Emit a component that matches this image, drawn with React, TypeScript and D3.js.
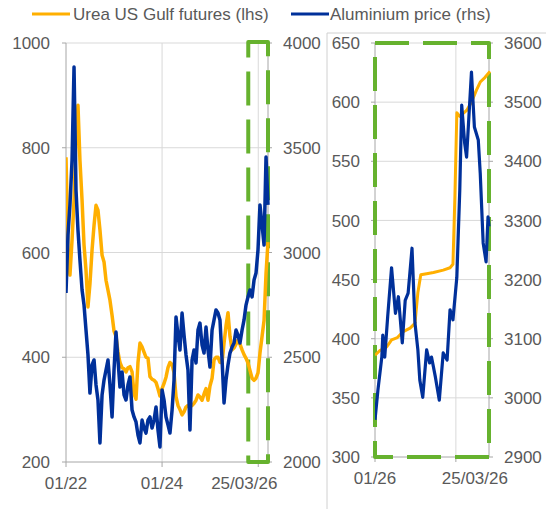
import React from "react";
import * as d3 from "d3";

// ---------- DATA ----------
// Left panel: fortnightly samples Jan 2022 – Mar 2026
const leftStart = "2022-01-01";
const leftStepDays = 15.2;
const ureaLeft = [782,605,557,624,700,814,881,776,700,614,566,496,540,605,652,690,681,643,595,582,547,528,509,480,450,440,410,390,380,378,372,380,382,372,330,320,390,427,420,410,400,398,363,358,356,352,340,326,340,350,362,380,390,386,370,325,308,300,290,296,305,308,305,308,312,318,328,324,318,330,340,318,345,360,395,400,400,390,390,427,460,485,440,414,418,425,433,425,414,405,398,389,375,360,356,360,370,408,440,470,560,620];
const aluLeft = [2807,3083,3227,3441,3885,3298,3107,2964,2821,2749,2630,2511,2329,2463,2487,2368,2296,2091,2320,2391,2439,2487,2368,2215,2439,2620,2487,2358,2430,2320,2296,2368,2406,2248,2215,2191,2129,2091,2200,2162,2138,2200,2215,2162,2200,2263,2153,2072,2344,2296,2215,2177,2138,2248,2391,2692,2606,2535,2711,2606,2511,2439,2153,2487,2535,2473,2630,2663,2558,2520,2644,2535,2453,2630,2678,2726,2711,2678,2487,2282,2391,2463,2520,2549,2568,2630,2606,2568,2630,2678,2749,2788,2821,2788,2869,2902,3012,3227,3131,3036,3456,3227];
const leftTickDates = ["2022-01-01", "2024-01-01", "2026-01-01"];
const leftTickLabels = ["01/22", "01/24", "25/03/26"];
const leftYTicks = [200, 400, 600, 800, 1000];
const leftY2Ticks = [2000, 2500, 3000, 3500, 4000];

// Right panel: 2026 zoom (days since 1 Jan 2026)
const rightStart = "2026-01-01";
const ureaDays = [0,5,12,17,23,29,36,41,44,47,53,60,70,77,80,82,84,87,90,94,99,104,108,113,118];
const ureaRight = [386,390,393,399,401,406,409,413,439,454,455,456,458,460,463,520,591,588,590,593,600,610,617,621,626];
const aluDays = [0,3,7,8,10,13,17,21,24,28,31,34,38,41,44,46,49,53,56,58,62,66,70,74,77,80,84,87,89,92,94,99,102,106,108,111,114,116,117];
const aluRight = [2963,3013,3069,3106,3069,3137,3220,3143,3171,3093,3165,3177,3253,3127,3081,3030,3001,3081,3059,3069,3035,2996,3076,3064,3149,3132,3204,3351,3495,3431,3407,3551,3458,3436,3380,3262,3230,3306,3290];
const rightTickDates = ["2026-01-01", "2026-03-25"];
const rightTickLabels = ["01/26", "25/03/26"];
const rightYTicks = [300, 350, 400, 450, 500, 550, 600, 650];
const rightY2Ticks = [2900, 3000, 3100, 3200, 3300, 3400, 3500, 3600];

const legendLabels = ["Urea US Gulf futures (lhs)", "Aluminium price (rhs)"];

// ---------- STYLE ----------
const ORANGE = "#FFAF00";
const BLUE = "#00309A";
const GREEN = "#66B22E";
const GRID = "#d9d9d9";
const AXIS = "#a6a6a6";
const TEXT = "#595959";
const FONT = "'Liberation Sans', Arial, Helvetica, sans-serif";
const FS = 17;

const parse = d3.utcParse("%Y-%m-%d");

export default function App() {
  // Left panel geometry
  const L = { x0: 66, x1: 268, y0: 43, y1: 462 };
  const lStart = parse(leftStart)!;
  const leftDates = ureaLeft.map((_, i) => d3.utcDay.offset(lStart, Math.round(i * leftStepDays)));
  const xL = d3.scaleUtc().domain([lStart, leftDates[leftDates.length - 1]]).range([L.x0, L.x1]);
  const yL = d3.scaleLinear().domain([200, 1000]).range([L.y1, L.y0]);
  const yL2 = d3.scaleLinear().domain([2000, 4000]).range([L.y1, L.y0]);

  // Right panel geometry
  const R = { x0: 375, x1: 489, y0: 43, y1: 457 };
  const rStart = parse(rightStart)!;
  const xR = d3.scaleUtc().domain([rStart, d3.utcDay.offset(rStart, 117)]).range([R.x0, R.x1]);
  const yR = d3.scaleLinear().domain([300, 650]).range([R.y1, R.y0]);
  const yR2 = d3.scaleLinear().domain([2900, 3600]).range([R.y1, R.y0]);

  const lineUreaL = d3.line<number>().x((_, i) => xL(leftDates[i])).y((d) => yL(d))(ureaLeft) || "";
  const lineAluL = d3.line<number>().x((_, i) => xL(leftDates[i])).y((d) => yL2(d))(aluLeft) || "";
  const lineUreaR = d3.line<number>().x((_, i) => xR(d3.utcDay.offset(rStart, ureaDays[i]))).y((d) => yR(d))(ureaRight) || "";
  const lineAluR = d3.line<number>().x((_, i) => xR(d3.utcDay.offset(rStart, aluDays[i]))).y((d) => yR2(d))(aluRight) || "";

  const lTickX = leftTickDates.map((s) => xL(parse(s)!));
  const rTickX = rightTickDates.map((s) => xR(parse(s)!));
  const lLabelShift = [0, 0, -14];
  const rLabelShift = [0, 19];

  const textProps = { fontFamily: FONT, fontSize: FS, fill: TEXT };

  // green highlight box in left panel: covers zoomed period
  const boxLx0 = xL(d3.utcDay.offset(parse(rightTickDates[0])!, -76));

  return (
    <svg width={546} height={509} style={{ position: "absolute", left: 0, top: 0, background: "#fff" }}>
      <defs>
        <clipPath id="clipL"><rect x={L.x0} y={L.y0 - 2} width={L.x1 - L.x0 + 2} height={L.y1 - L.y0 + 2} /></clipPath>
        <clipPath id="clipR"><rect x={R.x0} y={R.y0 - 2} width={R.x1 - R.x0 + 3} height={R.y1 - R.y0 + 2} /></clipPath>
      </defs>
      <rect x={0} y={0} width={546} height={509} fill="#fff" />

      {/* Legend */}
      <line x1={32} x2={70} y1={14} y2={14} stroke={ORANGE} strokeWidth={3} />
      <text x={73} y={20} {...textProps}>{legendLabels[0]}</text>
      <line x1={291} x2={329} y1={14} y2={14} stroke={BLUE} strokeWidth={3} />
      <text x={330} y={20} {...textProps}>{legendLabels[1]}</text>

      {/* Right panel frame */}
      <path d={`M327,509 V33 H546`} fill="none" stroke="#d0d0d0" strokeWidth={1} />

      {/* ---------- Left panel ---------- */}
      {leftYTicks.map((t) => (
        <g key={"lg" + t}>
          {t !== 200 && <line x1={L.x0} x2={L.x1} y1={yL(t)} y2={yL(t)} stroke={GRID} strokeWidth={1} />}
          <line x1={L.x0 - 4} x2={L.x0} y1={yL(t)} y2={yL(t)} stroke={AXIS} />
          <line x1={L.x1} x2={L.x1 + 4} y1={yL(t)} y2={yL(t)} stroke={AXIS} />
          <text x={50} y={yL(t)} dy="0.36em" textAnchor="end" {...textProps}>{t}</text>
        </g>
      ))}
      {leftY2Ticks.map((t) => (
        <text key={"ly2" + t} x={283} y={yL2(t)} dy="0.36em" textAnchor="start" {...textProps}>{t}</text>
      ))}
      {lTickX.slice(1).map((x, i) => (
        <line key={"lvg" + i} x1={x} x2={x} y1={L.y0} y2={L.y1} stroke={GRID} strokeWidth={1} />
      ))}
      <line x1={L.x0} x2={L.x0} y1={L.y0} y2={L.y1} stroke={AXIS} />
      <line x1={L.x1} x2={L.x1} y1={L.y0} y2={L.y1} stroke={AXIS} />
      <line x1={L.x0} x2={L.x1} y1={L.y1} y2={L.y1} stroke={AXIS} />
      {lTickX.map((x, i) => (
        <g key={"lt" + i}>
          <line x1={x} x2={x} y1={L.y1} y2={L.y1 + 5} stroke={AXIS} />
          <text x={x + lLabelShift[i]} y={L.y1 + 27} textAnchor="middle" {...textProps}>{leftTickLabels[i]}</text>
        </g>
      ))}
      <rect x={boxLx0} y={L.y0 - 1} width={L.x1 - boxLx0} height={L.y1 - L.y0 + 1} fill="none" stroke={GREEN} strokeWidth={4} strokeDasharray="34,14" strokeLinejoin="round" />
      <g clipPath="url(#clipL)">
        <path d={lineUreaL} fill="none" stroke={ORANGE} strokeWidth={3.5} strokeLinejoin="round" />
        <path d={lineAluL} fill="none" stroke={BLUE} strokeWidth={3.5} strokeLinejoin="round" />
      </g>

      {/* ---------- Right panel ---------- */}
      {rightYTicks.map((t) => (
        <g key={"rg" + t}>
          {t !== 300 && <line x1={R.x0} x2={R.x1} y1={yR(t)} y2={yR(t)} stroke={GRID} strokeWidth={1} />}
          <line x1={R.x0 - 4} x2={R.x0} y1={yR(t)} y2={yR(t)} stroke={AXIS} />
          <line x1={R.x1} x2={R.x1 + 4} y1={yR(t)} y2={yR(t)} stroke={AXIS} />
          <text x={360} y={yR(t)} dy="0.36em" textAnchor="end" {...textProps}>{t}</text>
        </g>
      ))}
      {rightY2Ticks.map((t) => (
        <text key={"ry2" + t} x={504} y={yR2(t)} dy="0.36em" textAnchor="start" {...textProps}>{t}</text>
      ))}
      {rTickX.slice(1).map((x, i) => (
        <line key={"rvg" + i} x1={x} x2={x} y1={R.y0} y2={R.y1} stroke={GRID} strokeWidth={1} />
      ))}
      <line x1={R.x0} x2={R.x0} y1={R.y0} y2={R.y1} stroke={AXIS} />
      <line x1={R.x1} x2={R.x1} y1={R.y0} y2={R.y1} stroke={AXIS} />
      <line x1={R.x0} x2={R.x1} y1={R.y1} y2={R.y1} stroke={AXIS} />
      {rTickX.map((x, i) => (
        <g key={"rt" + i}>
          <line x1={x} x2={x} y1={R.y1} y2={R.y1 + 5} stroke={AXIS} />
          <text x={x + rLabelShift[i]} y={R.y1 + 27} textAnchor="middle" {...textProps}>{rightTickLabels[i]}</text>
        </g>
      ))}
      <rect x={R.x0} y={R.y0} width={R.x1 - R.x0} height={R.y1 - R.y0} fill="none" stroke={GREEN} strokeWidth={4} strokeDasharray="34,14" strokeLinejoin="round" />
      <g clipPath="url(#clipR)">
        <path d={lineUreaR} fill="none" stroke={ORANGE} strokeWidth={3} strokeLinejoin="round" />
        <path d={lineAluR} fill="none" stroke={BLUE} strokeWidth={3.2} strokeLinejoin="round" />
      </g>
    </svg>
  );
}
